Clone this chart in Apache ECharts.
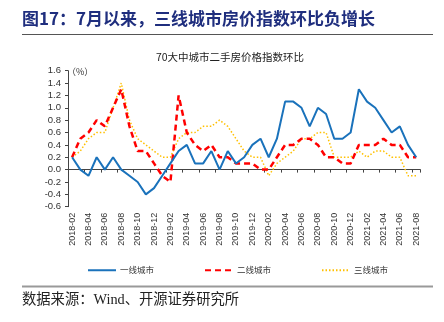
<!DOCTYPE html>
<html>
<head>
<meta charset="utf-8">
<script src="https://cdn.jsdelivr.net/npm/echarts@6/dist/echarts.min.js"></script>
<style>
html,body{margin:0;padding:0;background:#fff;}
#c{width:444px;height:322px;}
</style>
</head>
<body>
<div id="c"></div>
<script>
const categories = ["2018-02","2018-03","2018-04","2018-05","2018-06","2018-07","2018-08","2018-09","2018-10","2018-11","2018-12",
"2019-01","2019-02","2019-03","2019-04","2019-05","2019-06","2019-07","2019-08","2019-09","2019-10","2019-11","2019-12",
"2020-01","2020-02","2020-03","2020-04","2020-05","2020-06","2020-07","2020-08","2020-09","2020-10","2020-11","2020-12",
"2021-01","2021-02","2021-03","2021-04","2021-05","2021-06","2021-07","2021-08"];
const tier1 = [0.2,0.0,-0.1,0.2,0.0,0.2,0.0,-0.1,-0.2,-0.4,-0.3,-0.1,0.1,0.3,0.4,0.1,0.1,0.3,0.0,0.3,0.1,0.2,0.4,0.5,0.2,0.5,1.1,1.1,1.0,0.7,1.0,0.9,0.5,0.5,0.6,1.3,1.1,1.0,0.8,0.6,0.7,0.4,0.2];
const tier2 = [0.2,0.5,0.6,0.8,0.7,1.0,1.3,0.7,0.3,0.3,0.1,-0.1,-0.2,1.2,0.6,0.4,0.3,0.4,0.2,0.2,0.1,0.1,0.1,0.0,0.0,0.2,0.4,0.4,0.5,0.5,0.4,0.2,0.2,0.1,0.1,0.4,0.4,0.4,0.5,0.4,0.4,0.2,0.2];
const tier3 = [0.2,0.3,0.5,0.6,0.6,1.0,1.4,0.8,0.5,0.4,0.3,0.2,0.2,0.5,0.6,0.6,0.7,0.7,0.8,0.7,0.5,0.3,0.2,0.2,-0.1,0.1,0.2,0.3,0.5,0.5,0.6,0.6,0.2,0.2,0.2,0.3,0.2,0.3,0.3,0.2,0.2,-0.1,-0.1];
const seriesNames = ["一线城市","二线城市","三线城市"];
const figTitle = "图17：7月以来，三线城市房价指数环比负增长";
const chartTitle = "70大中城市二手房价格指数环比";
const unitLabel = "（%）";
const sourceText = "数据来源：Wind、开源证券研究所";

const latin = "'Liberation Sans', Arial, 'Noto Sans CJK SC', sans-serif";
const cjk = "'Noto Sans CJK SC', sans-serif";
const axisColor = '#444';

const chart = echarts.init(document.getElementById('c'), null, {renderer:'canvas'});
chart.setOption({
  animation: false,
  backgroundColor: '#fff',
  grid: {left: 68, right: 23.7, top: 70.7, bottom: 115.3, containLabel: false},
  xAxis: [
    {
      type: 'category', data: categories, boundaryGap: true, position: 'bottom',
      axisLine: {show: false, onZero: false},
      axisTick: {show: false},
      axisLabel: {interval: 1, rotate: 90, fontSize: 9, color: '#333', margin: 6, fontFamily: latin}
    },
    {
      type: 'category', data: categories, boundaryGap: true, position: 'bottom',
      axisLine: {show: true, onZero: true, lineStyle: {color: axisColor, width: 1}},
      axisTick: {show: true, interval: 1, length: 3, lineStyle: {color: axisColor}},
      axisLabel: {show: false},
      splitLine: {show: false}
    }
  ],
  yAxis: {
    type: 'value', min: -0.6, max: 1.6, interval: 0.2,
    axisLine: {show: true, lineStyle: {color: axisColor, width: 1}},
    axisTick: {show: true, length: 3, lineStyle: {color: axisColor}},
    splitLine: {show: false},
    axisLabel: {formatter: v => v.toFixed(1), fontSize: 9.5, color: '#333', margin: 7, fontFamily: latin}
  },
  legend: {
    left: 82, top: 261, itemWidth: 28, itemHeight: 10, itemGap: 50,
    itemStyle: {opacity: 0, borderWidth: 0},
    textStyle: {fontSize: 8.5, color: '#333', fontFamily: cjk, padding: [0,0,0,-1]},
    data: seriesNames
  },
  series: [
    {name: seriesNames[0], type: 'line', data: tier1, xAxisIndex: 0, symbol: 'none', showSymbol: false,
     lineStyle: {color: '#1A72BB', width: 2}, itemStyle: {color: '#1A72BB'}, z: 3},
    {name: seriesNames[1], type: 'line', data: tier2, xAxisIndex: 0, symbol: 'none', showSymbol: false,
     lineStyle: {color: '#FF0000', width: 2.5, type: [6, 4]}, itemStyle: {color: '#FF0000'}, z: 2},
    {name: seriesNames[2], type: 'line', data: tier3, xAxisIndex: 0, symbol: 'none', showSymbol: false,
     lineStyle: {color: '#FFC000', width: 1.5, type: [1.5, 2]}, itemStyle: {color: '#FFC000'}, z: 1}
  ],
  graphic: [
    {type: 'text', left: 22, top: 10, style: {text: figTitle, fontSize: 17, fontWeight: 'bold', fill: '#1F2E7E', fontFamily: cjk}},
    {type: 'line', shape: {x1: 22, y1: 34.5, x2: 433, y2: 34.5}, style: {stroke: '#555', lineWidth: 1}},
    {type: 'text', x: 230, y: 57, style: {text: chartTitle, fontSize: 10.5, fill: '#222', fontFamily: cjk, textAlign: 'center', textVerticalAlign: 'middle'}},
    {type: 'text', x: 67, y: 72, style: {text: unitLabel, fontSize: 9, fill: '#333', fontFamily: cjk, textAlign: 'left', textVerticalAlign: 'middle'}},
    {type: 'line', shape: {x1: 22, y1: 286.5, x2: 433, y2: 286.5}, style: {stroke: '#999', lineWidth: 1.8}},
    {type: 'text', x: 22, y: 300, style: {text: sourceText, fontSize: 14.3, fill: '#222', fontFamily: "'Liberation Serif', 'Noto Sans CJK SC', serif", textAlign: 'left', textVerticalAlign: 'middle'}}
  ]
});
</script>
</body>
</html>
